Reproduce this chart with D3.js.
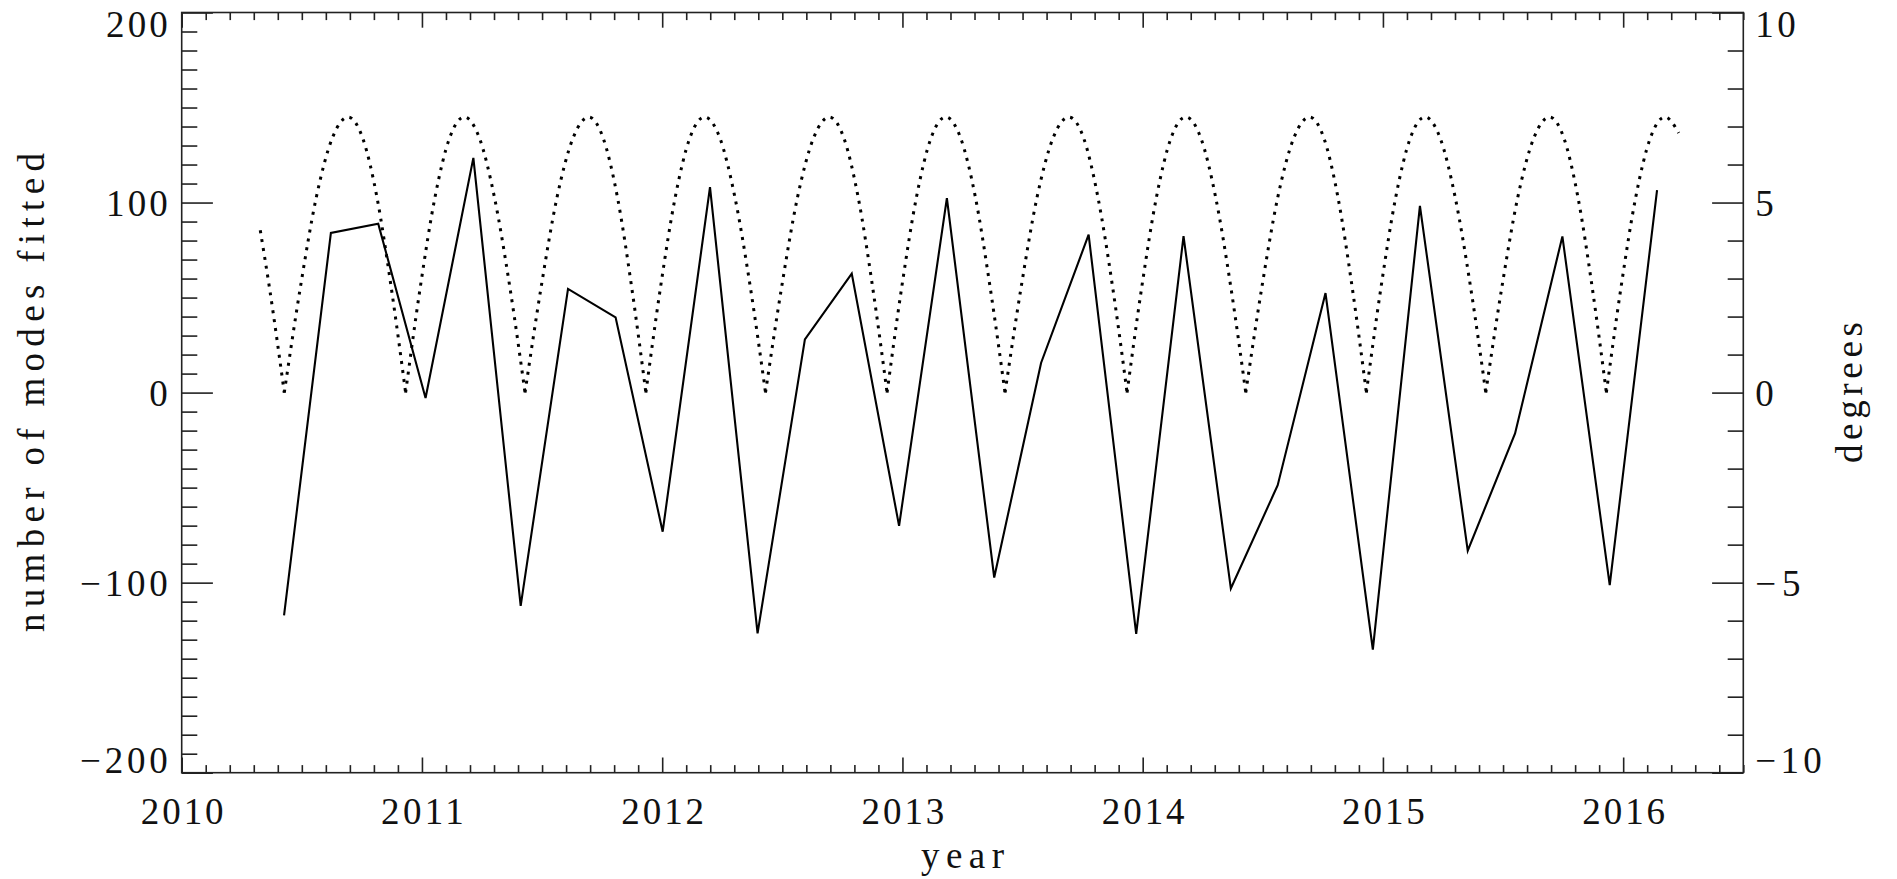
<!DOCTYPE html>
<html>
<head>
<meta charset="utf-8">
<script src="https://cdn.jsdelivr.net/npm/d3@7"></script>
<style>
  html, body { margin: 0; padding: 0; background: #fff; }
  svg { display: block; }
</style>
</head>
<body>
<svg id="chart" width="1897" height="879"></svg>
<script>
// ---- data ----
const modeYears = [2010.426, 2010.621, 2010.818, 2011.015, 2011.214, 2011.411, 2011.608, 2011.806,
  2012.002, 2012.199, 2012.397, 2012.594, 2012.789, 2012.986, 2013.185, 2013.382, 2013.577, 2013.775,
  2013.973, 2014.170, 2014.367, 2014.562, 2014.761, 2014.958, 2015.154, 2015.353, 2015.550, 2015.747,
  2015.944, 2016.141];
const modeCounts = [-117.2, 84.0, 88.9, -2.8, 123.5, -112.2, 54.6, 39.6,
  -73.2, 108.1, -126.7, 28.0, 62.6, -70.1, 102.3, -97.3, 15.6, 83.1,
  -127.0, 82.3, -103.1, -48.7, 52.4, -135.2, 98.3, -83.2, -21.5, 82.2,
  -101.3, 106.6];

const angleYears = [
  2010.327, 2010.365, 2010.427,
  2010.494, 2010.560, 2010.627, 2010.693, 2010.753, 2010.813, 2010.872, 2010.932,
  2010.993, 2011.054, 2011.115, 2011.176, 2011.239, 2011.302, 2011.366, 2011.429,
  2011.496, 2011.562, 2011.629, 2011.695, 2011.754, 2011.814, 2011.873, 2011.932,
  2011.993, 2012.054, 2012.115, 2012.176, 2012.240, 2012.303, 2012.367, 2012.430,
  2012.497, 2012.563, 2012.630, 2012.696, 2012.756, 2012.816, 2012.876, 2012.936,
  2012.997, 2013.058, 2013.119, 2013.180, 2013.242, 2013.304, 2013.365, 2013.427,
  2013.494, 2013.560, 2013.627, 2013.693, 2013.754, 2013.814, 2013.875, 2013.935,
  2013.996, 2014.057, 2014.118, 2014.179, 2014.242, 2014.304, 2014.367, 2014.429,
  2014.496, 2014.562, 2014.629, 2014.695, 2014.754, 2014.813, 2014.872, 2014.931,
  2014.992, 2015.053, 2015.114, 2015.175, 2015.238, 2015.301, 2015.365, 2015.428,
  2015.495, 2015.561, 2015.628, 2015.694, 2015.753, 2015.812, 2015.871, 2015.930,
  2015.991, 2016.052, 2016.113, 2016.174, 2016.231];
const angleDegrees = [
  4.27, 2.77, 0,
  2.77, 5.13, 6.70, 7.25, 6.70, 5.13, 2.77, 0,
  2.77, 5.13, 6.70, 7.25, 6.70, 5.13, 2.77, 0,
  2.77, 5.13, 6.70, 7.25, 6.70, 5.13, 2.77, 0,
  2.77, 5.13, 6.70, 7.25, 6.70, 5.13, 2.77, 0,
  2.77, 5.13, 6.70, 7.25, 6.70, 5.13, 2.77, 0,
  2.77, 5.13, 6.70, 7.25, 6.70, 5.13, 2.77, 0,
  2.77, 5.13, 6.70, 7.25, 6.70, 5.13, 2.77, 0,
  2.77, 5.13, 6.70, 7.25, 6.70, 5.13, 2.77, 0,
  2.77, 5.13, 6.70, 7.25, 6.70, 5.13, 2.77, 0,
  2.77, 5.13, 6.70, 7.25, 6.70, 5.13, 2.77, 0,
  2.77, 5.13, 6.70, 7.25, 6.70, 5.13, 2.77, 0,
  2.77, 5.13, 6.70, 7.25, 6.83];

const xTicks = [2010, 2011, 2012, 2013, 2014, 2015, 2016];
const yLeftTicks = [-200, -100, 0, 100, 200];
const yRightTicks = [-10, -5, 0, 5, 10];
const xLabel = "year";
const yLeftLabel = "number of modes fitted";
const yRightLabel = "degrees";

const FONT = `"Liberation Serif", "DejaVu Serif", serif`;

// ---- layout ----
const L = 181.7, R = 1743.3, T = 12.5, B = 772.7;
const FS = 37;
const svg = d3.select("#chart");

const x = d3.scaleLinear().domain([2010, 2016.5]).range([L, R]);
const yL = d3.scaleLinear().domain([-200, 200]).range([B, T]);
const yR = d3.scaleLinear().domain([-10, 10]).range([B, T]);

const axisColor = "#222";
const xMinor = d3.range(2010, 2016.5001, 0.1).map(v => +v.toFixed(2)).filter(v => Math.abs(v - Math.round(v)) > 1e-6);
const yLMinor = d3.range(-200, 201, 10).filter(v => v % 100 !== 0);
const yRMinor = d3.range(-10, 11, 1).filter(v => v % 5 !== 0);

// letter-spacing so that a text spans the width seen in the reference
function fitSpacing(sel, targetWidth) {
  sel.each(function () {
    const t = d3.select(this);
    t.style("letter-spacing", "0px");
    const n = this.textContent.length;
    const w = this.getComputedTextLength();
    const target = targetWidth(this.textContent);
    const ls = n > 1 ? Math.max(0, (target - w) / (n - 1)) : 0;
    t.style("letter-spacing", ls + "px").attr("data-ls", ls);
  });
}
function styleAxis(g) {
  g.select(".domain").remove();
  g.attr("font-family", FONT).attr("font-size", FS);
  g.selectAll("line").attr("stroke", axisColor).attr("stroke-width", 1.6);
  g.selectAll("text").attr("fill", "#111");
}
const labelWidth = s => {
  const hasMinus = s.startsWith("\u2212") || s.startsWith("-");
  const digits = s.replace(/[\u2212-]/, "").length;
  return digits * 21.2 - 2 + (hasMinus ? 26 : 0);
};

const xMaj = 15.2, xMin = 7.6, yMaj = 31.2, yMin = 15.6;

// bottom axis
svg.append("g").attr("transform", `translate(0,${B})`)
  .call(d3.axisBottom(x).tickValues(xMinor).tickSize(-xMin).tickSizeOuter(0).tickFormat(""))
  .call(styleAxis);
const gxb = svg.append("g").attr("transform", `translate(0,${B})`)
  .call(d3.axisBottom(x).tickValues(xTicks).tickSize(-xMaj).tickSizeOuter(0).tickFormat(d3.format("d")))
  .call(styleAxis);
gxb.selectAll("text").attr("y", 51.5).attr("dy", 0).call(fitSpacing, labelWidth)
  .attr("dx", function () { return +this.getAttribute("data-ls") / 2; });

// top axis
svg.append("g").attr("transform", `translate(0,${T})`)
  .call(d3.axisTop(x).tickValues(xMinor).tickSize(-xMin).tickSizeOuter(0).tickFormat(""))
  .call(styleAxis);
svg.append("g").attr("transform", `translate(0,${T})`)
  .call(d3.axisTop(x).tickValues(xTicks).tickSize(-xMaj).tickSizeOuter(0).tickFormat(""))
  .call(styleAxis);

// left axis
svg.append("g").attr("transform", `translate(${L},0)`)
  .call(d3.axisLeft(yL).tickValues(yLMinor).tickSize(-yMin).tickSizeOuter(0).tickFormat(""))
  .call(styleAxis);
const gyl = svg.append("g").attr("transform", `translate(${L},0)`)
  .call(d3.axisLeft(yL).tickValues(yLeftTicks).tickSize(-yMaj).tickSizeOuter(0).tickPadding(14).tickFormat(d3.format("d")))
  .call(styleAxis);
gyl.selectAll("text").attr("dy", d => d === 200 ? "0.65em" : d === -200 ? "0em" : "0.34em")
  .call(fitSpacing, labelWidth)
  .attr("dx", function () { return +this.getAttribute("data-ls"); });

// right axis
svg.append("g").attr("transform", `translate(${R},0)`)
  .call(d3.axisRight(yR).tickValues(yRMinor).tickSize(-yMin).tickSizeOuter(0).tickFormat(""))
  .call(styleAxis);
const gyr = svg.append("g").attr("transform", `translate(${R},0)`)
  .call(d3.axisRight(yR).tickValues(yRightTicks).tickSize(-yMaj).tickSizeOuter(0).tickPadding(12).tickFormat(d3.format("d")))
  .call(styleAxis);
gyr.selectAll("text").attr("dy", d => d === 10 ? "0.65em" : d === -10 ? "0em" : "0.34em")
  .call(fitSpacing, labelWidth);

// frame
svg.append("rect").attr("x", L).attr("y", T).attr("width", R - L).attr("height", B - T)
  .attr("fill", "none").attr("stroke", axisColor).attr("stroke-width", 1.6);

// solid series
const modes = modeYears.map((t, i) => ({ t, v: modeCounts[i] }));
svg.append("path").datum(modes)
  .attr("d", d3.line().x(d => x(d.t)).y(d => yL(d.v)))
  .attr("fill", "none").attr("stroke", "#000").attr("stroke-width", 2.1).attr("stroke-linejoin", "miter");

// dotted series (split at the cusps)
const ang = angleYears.map((t, i) => ({ t, v: angleDegrees[i] }));
const segs = [];
let cur = [];
ang.forEach(p => {
  cur.push(p);
  if (p.v === 0 && cur.length > 1) { segs.push(cur); cur = [p]; }
});
if (cur.length > 1) segs.push(cur);
const dotLine = d3.line().x(d => x(d.t)).y(d => yR(d.v)).curve(d3.curveMonotoneX);
svg.append("g").selectAll("path").data(segs).join("path")
  .attr("d", dotLine)
  .attr("fill", "none").attr("stroke", "#000").attr("stroke-width", 3)
  .attr("stroke-dasharray", "3 6").attr("stroke-linecap", "butt");

// titles
const titles = svg.append("g").attr("font-family", FONT).attr("font-size", FS).attr("fill", "#111");
const tx = titles.append("text").attr("x", (L + R) / 2).attr("y", 868)
  .attr("text-anchor", "middle").text(xLabel).call(fitSpacing, () => 83);
tx.attr("dx", +tx.attr("data-ls") / 2);
const tl = titles.append("text").attr("transform", `translate(43.5,${(T + B) / 2}) rotate(-90)`)
  .attr("text-anchor", "middle").text(yLeftLabel).call(fitSpacing, () => 479);
tl.attr("dx", +tl.attr("data-ls") / 2);
const tr = titles.append("text").attr("transform", `translate(1861.5,${(T + B) / 2}) rotate(-90)`)
  .attr("text-anchor", "middle").text(yRightLabel).call(fitSpacing, () => 141);
tr.attr("dx", +tr.attr("data-ls") / 2);
</script>
</body>
</html>
